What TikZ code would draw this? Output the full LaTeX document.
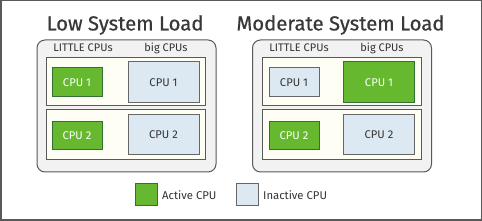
\documentclass[tikz,border=0pt]{standalone}
\usepackage{fontspec}
\setmainfont{Fira Sans}
\newfontfamily\titlefont[FakeBold=0.6]{Fira Sans}
\begin{document}
\begin{tikzpicture}[x=1pt,y=-1pt,
  frame/.style={draw=black!65, line width=1.5pt},
  group/.style={draw=black!65, fill=black!5, line width=1pt, rounded corners=8pt, inner sep=0pt},
  rowbox/.style={draw=black!65, fill=yellow!4, line width=1pt, inner sep=0pt},
  active/.style={draw=green!30!black!80, fill=cpugreen, line width=1pt, inner sep=0pt, text=white, font=\fontsize{11.2}{13}\selectfont},
  inactive/.style={draw=black!60, fill=cpublue, line width=1pt, inner sep=0pt, text=black!80, font=\fontsize{11.2}{13}\selectfont},
  title/.style={text=black!78, font=\titlefont\fontsize{20.3}{24}\selectfont, inner sep=0pt},
  lbl/.style={text=black!80, font=\fontsize{11}{13}\selectfont, inner sep=0pt},
  legtxt/.style={text=black!80, font=\fontsize{11.3}{13}\selectfont, inner sep=0pt, anchor=west}
]
\definecolor{cpugreen}{HTML}{66B82E}
\definecolor{cpublue}{HTML}{DDE9F2}
\useasboundingbox (0,0) rectangle (482,221);
\draw[frame] (0.75,0.75) rectangle (481.25,220.25);
% Left group
\node[title] (t1) at (125,25) {Low System Load};
\node[group, minimum width=179pt, minimum height=132pt] (g1) at (126.5,106) {};
\node[lbl] (l1a) at (83,48) {LITTLE CPUs};
\node[lbl] (l1b) at (166,48) {big CPUs};
\node[rowbox, minimum width=159pt, minimum height=48pt] (r1a) at (125.5,82) {};
\node[rowbox, minimum width=159pt, minimum height=50pt] (r1b) at (125.5,135) {};
\node[active, minimum width=50pt, minimum height=29pt] (c1a) at (77,82.5) {CPU 1};
\node[inactive, minimum width=71pt, minimum height=41pt] (c1b) at (163.5,82.5) {CPU 1};
\node[active, minimum width=50pt, minimum height=28pt] (c1c) at (77,136) {CPU 2};
\node[inactive, minimum width=71pt, minimum height=40pt] (c1d) at (163.5,135) {CPU 2};
% Right group
\node[title] (t2) at (340.5,25) {Moderate System Load};
\node[group, minimum width=179pt, minimum height=132pt] (g2) at (342,106) {};
\node[lbl] (l2a) at (299,48) {LITTLE CPUs};
\node[lbl] (l2b) at (382,48) {big CPUs};
\node[rowbox, minimum width=159pt, minimum height=48pt] (r2a) at (341.5,82) {};
\node[rowbox, minimum width=159pt, minimum height=50pt] (r2b) at (341.5,135) {};
\node[inactive, minimum width=50pt, minimum height=29pt] (c2a) at (294,82.5) {CPU 1};
\node[active, minimum width=71pt, minimum height=41pt] (c2b) at (379,82.5) {CPU 1};
\node[active, minimum width=50pt, minimum height=28pt] (c2c) at (294,136) {CPU 2};
\node[inactive, minimum width=71pt, minimum height=40pt] (c2d) at (379,135) {CPU 2};
% Legend
\node[active, minimum width=22pt, minimum height=22pt] (la) at (146,195) {};
\node[legtxt] (lat) at (162,195) {Active CPU};
\node[inactive, minimum width=22pt, minimum height=22pt] (li) at (247.5,195) {};
\node[legtxt] (lit) at (263,195) {Inactive CPU};
\end{tikzpicture}
\end{document}
